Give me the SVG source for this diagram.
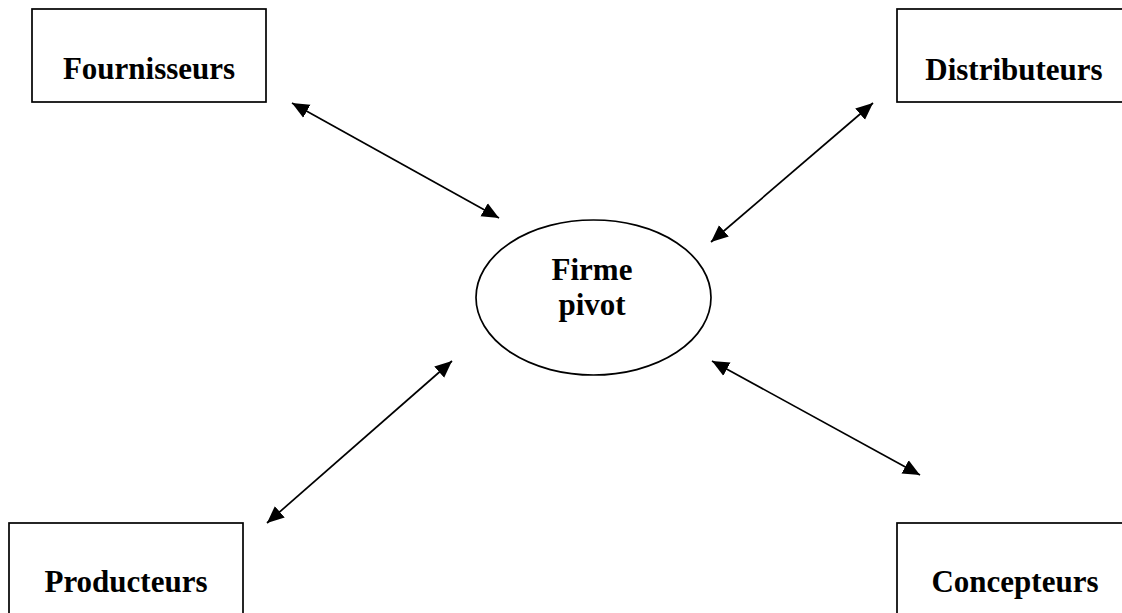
<svg xmlns="http://www.w3.org/2000/svg" width="1122" height="613" viewBox="0 0 1122 613">
<style>
.box{fill:#fff;stroke:#000;stroke-width:1.7}
.lbl{font-family:"Liberation Serif","Times New Roman",serif;font-weight:bold;font-size:31px;fill:#000;text-anchor:middle}
.conn{stroke:#000;stroke-width:1.7;fill:none;marker-start:url(#ah);marker-end:url(#ah)}
</style>
<defs>
<marker id="ah" markerUnits="userSpaceOnUse" markerWidth="18" markerHeight="16" refX="17" refY="7.5" orient="auto-start-reverse" viewBox="0 0 18 15">
<path d="M0,0 L17,7.5 L0,15 Z" fill="#000"/>
</marker>
</defs>
<rect width="1122" height="613" fill="#fff"/>
<g id="fournisseurs">
<rect class="box" x="32" y="9" width="234" height="93"/>
<text class="lbl" x="149" y="79">Fournisseurs</text>
</g>
<g id="distributeurs">
<rect class="box" x="897" y="9" width="240" height="93"/>
<text class="lbl" x="1014" y="80">Distributeurs</text>
</g>
<g id="producteurs">
<rect class="box" x="9" y="523" width="234" height="100"/>
<text class="lbl" x="126" y="592">Producteurs</text>
</g>
<g id="concepteurs">
<rect class="box" x="897" y="523" width="240" height="100"/>
<text class="lbl" x="1015" y="592">Concepteurs</text>
</g>
<g id="firme">
<ellipse class="box" cx="593.5" cy="297.5" rx="117.5" ry="77.5"/>
<text class="lbl" x="592" y="280">Firme</text>
<text class="lbl" x="592" y="315">pivot</text>
</g>
<g id="connectors">
<line class="conn" x1="292" y1="103" x2="499" y2="218"/>
<line class="conn" x1="711" y1="242" x2="873" y2="103"/>
<line class="conn" x1="267" y1="523" x2="452" y2="361"/>
<line class="conn" x1="712" y1="361" x2="920" y2="475"/>
</g>
</svg>
